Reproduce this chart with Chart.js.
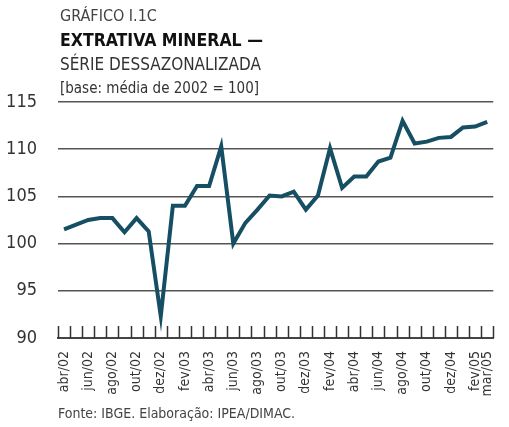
<!DOCTYPE html>
<html>
<head>
<meta charset="utf-8">
<script src="https://cdn.jsdelivr.net/npm/chart.js@4"></script>
<style>
  body { margin: 0; background: #fff; }
  #wrap { position: relative; width: 509px; height: 427px; font-family: "DejaVu Sans Condensed", sans-serif; }
  canvas { position: absolute; left: 0; top: 0; }
  .t { position: absolute; left: 60px; white-space: nowrap; color: #333; font-size: 17px; line-height: 20px; }
  .b { font-weight: bold; color: #111; }
</style>
</head>
<body>
<div id="wrap">
  <canvas id="chart" width="509" height="427"></canvas>
  <div class="t" style="top:6px; font-size:16px; color:#444;">GRÁFICO I.1C</div>
  <div class="t b" style="top:30px; font-size:17.5px;">EXTRATIVA MINERAL —</div>
  <div class="t" style="top:54px;">SÉRIE DESSAZONALIZADA</div>
  <div class="t" style="top:78px; font-size:15px;">[base: média de 2002 = 100]</div>
  <div class="t" style="top:403px; left:58px; font-size:14px; color:#444;">Fonte: IBGE. Elaboração: IPEA/DIMAC.</div>
</div>
<script>
const months = [
  'abr/02','mai/02','jun/02','jul/02','ago/02','set/02','out/02','nov/02','dez/02',
  'jan/03','fev/03','mar/03','abr/03','mai/03','jun/03','jul/03','ago/03','set/03',
  'out/03','nov/03','dez/03','jan/04','fev/04','mar/04','abr/04','mai/04','jun/04',
  'jul/04','ago/04','set/04','out/04','nov/04','dez/04','jan/05','fev/05','mar/05'
];
// only these get a label on the axis
const shownLabels = ['abr/02','jun/02','ago/02','out/02','dez/02','fev/03','abr/03','jun/03','ago/03',
  'out/03','dez/03','fev/04','abr/04','jun/04','ago/04','out/04','dez/04','fev/05','mar/05'];
const values = [
  101.5, 102.0, 102.5, 102.7, 102.7, 101.2, 102.7, 101.3, 92.3,
  104.0, 104.0, 106.1, 106.1, 110.3, 100.0, 102.2, 103.6, 105.1,
  105.0, 105.5, 103.6, 105.1, 110.1, 105.9, 107.1, 107.1, 108.7,
  109.1, 113.0, 110.6, 110.8, 111.2, 111.3, 112.3, 112.4, 112.9
];
const yTicks = [90, 95, 100, 105, 110, 115];

const fontFamily = "'DejaVu Sans Condensed', sans-serif";

// small tick marks pointing up from the x axis, at category boundaries
const innerTicks = {
  id: 'innerTicks',
  afterDraw(chart) {
    const x = chart.scales.x;
    const ctx = chart.ctx;
    const step = x.getPixelForValue(1) - x.getPixelForValue(0);
    const start = x.getPixelForValue(0) - step / 2;
    ctx.save();
    ctx.strokeStyle = '#333';
    ctx.lineWidth = 1.5;
    for (let k = 0; k <= months.length; k++) {
      const px = Math.round(start + k * step) + 0.5;
      ctx.beginPath();
      ctx.moveTo(px, x.top);
      ctx.lineTo(px, x.top - 12);
      ctx.stroke();
    }
    ctx.restore();
  }
};

new Chart(document.getElementById('chart'), {
  type: 'line',
  data: {
    labels: months,
    datasets: [{
      data: values,
      borderColor: '#164f63',
      borderWidth: 4,
      pointRadius: 0,
      tension: 0,
      fill: false
    }]
  },
  options: {
    responsive: false,
    animation: false,
    layout: { padding: { top: 102, right: 0, bottom: 0, left: 0 } },
    plugins: { legend: { display: false }, tooltip: { enabled: false } },
    scales: {
      x: {
        offset: true,
        grid: { display: false },
        border: { display: true, color: '#444', width: 2 },
        afterFit(scale) { scale.height = 89; },
        ticks: {
          autoSkip: false,
          maxRotation: 90,
          minRotation: 90,
          padding: 5,
          color: '#333',
          font: { family: fontFamily, size: 14 },
          callback(v) {
            const m = months[v];
            return shownLabels.includes(m) ? m : '';
          }
        }
      },
      y: {
        min: 90,
        max: 115,
        afterFit(scale) { scale.width = 58; },
        afterBuildTicks(scale) { scale.ticks = yTicks.map(v => ({ value: v })); },
        border: { display: false },
        grid: {
          color: (c) => c.tick && c.tick.value === 90 ? 'rgba(0,0,0,0)' : '#555',
          lineWidth: 1.5,
          drawTicks: false
        },
        ticks: {
          padding: 21,
          color: '#333',
          font: { family: fontFamily, size: 18 }
        }
      }
    }
  },
  plugins: [innerTicks]
});
</script>
</body>
</html>
